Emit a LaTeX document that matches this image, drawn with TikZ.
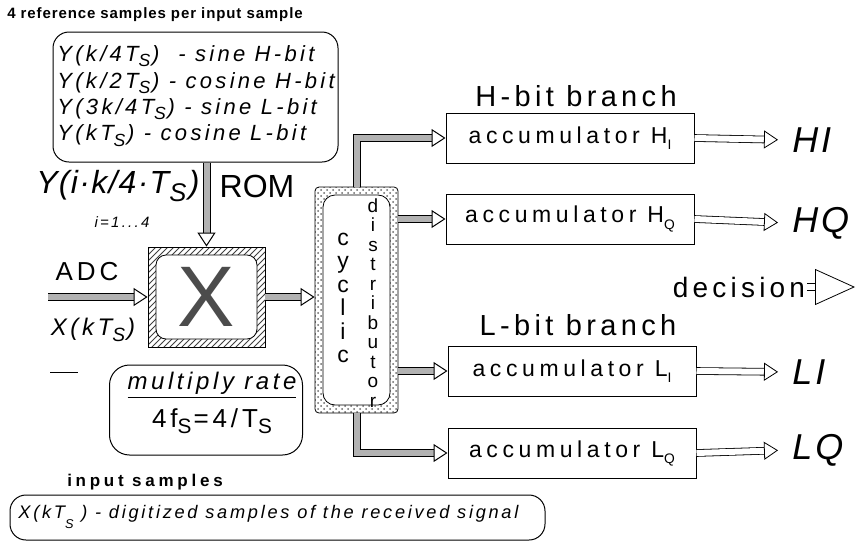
\documentclass[tikz,border=0pt]{standalone}
\usepackage{fontspec}
\setmainfont{Liberation Sans}[LetterSpace=15]
\newfontfamily\plainsf{Liberation Sans}
\usetikzlibrary{arrows.meta,patterns}
\newcommand\lowr[1]{\raisebox{-0.45ex}{\scalebox{0.8}{#1}}\kern0.08em}
\newcommand\sbt[1]{\raisebox{-0.5ex}{\scalebox{0.6}{#1}}}

\begin{document}
\begin{tikzpicture}[x=0.5pt,y=-0.5pt,
    acc/.style={draw,line width=0.5pt,minimum width=124pt,minimum height=25pt,inner sep=0pt,font=\fontsize{11.5}{13}\selectfont\addfontfeature{LetterSpace=20}},
    hatarrow/.style={draw=black,line width=0.5pt,double=black!30,double distance=3pt,-{Triangle[open,fill=white,length=7pt,width=9pt]}},
    outarrow/.style={draw=black,line width=0.4pt,double=white,double distance=3pt,-{Triangle[open,fill=white,length=7pt,width=9pt]}},
    roundbox/.style={draw,line width=0.5pt,rounded corners=8pt},
    outlab/.style={anchor=west,inner sep=2pt,font=\fontsize{18}{20}\selectfont\itshape\addfontfeature{LetterSpace=8}}]
\useasboundingbox (0,0) rectangle (857,547);

\node[font=\fontsize{7.5}{9}\selectfont\bfseries\addfontfeature{LetterSpace=6}] (title) at (155,15) {4 reference samples per input sample};
\node[roundbox,minimum width=142.5pt,minimum height=65pt] (rom) at (195.5,97) {};
\node[anchor=west,inner sep=0pt,align=left,font=\fontsize{11}{13.2}\selectfont\itshape] (romtxt) at (57,96)
  {Y(k/4T\lowr{S})\ \ - sine H-bit\\Y(k/2T\lowr{S}) - cosine H-bit\\Y(3k/4T\lowr{S}) - sine L-bit\\Y(kT\lowr{S}) - cosine L-bit};
\node[font=\fontsize{16}{18}\selectfont\itshape\addfontfeature{LetterSpace=4}] (yref) at (118,186) {Y(i·k/4·T\lowr{S})};
\node[font=\plainsf\fontsize{16}{18}\selectfont] (romlab) at (257,186) {ROM};
\node[font=\fontsize{7.5}{9}\selectfont\itshape] (irange) at (122,222) {i=1...4};

\node[draw,pattern=north east lines,pattern color=black!75,minimum width=58.5pt,minimum height=50pt] (xbox) at (206.5,297) {};
\node[draw,fill=white,rounded corners=5pt,minimum width=50.5pt,minimum height=42pt,inner sep=0pt,text=black!70,font=\plainsf\fontsize{43}{43}\selectfont] (xin) at (xbox) {X};

\node[font=\fontsize{13}{15}\selectfont] (adc) at (87,272) {ADC};
\node[font=\fontsize{12}{14}\selectfont\itshape] (xks) at (93,330) {X(kT\lowr{S})};
\coordinate (adcin) at (48,297);
\draw (50,372) -- (78,372);

\node[draw,pattern=crosshatch dots,pattern color=black!60,minimum width=41.5pt,minimum height=113pt,rounded corners=2pt] (dist) at (356.5,300) {};
\node[draw,fill=white,rounded corners=6pt,minimum width=33.5pt,minimum height=105pt] (distin) at (dist) {};
\node[align=center,inner sep=0pt,font=\fontsize{11.5}{11.7}\selectfont] (cyc) at (343,298) {c\\y\\c\\l\\i\\c};
\node[align=center,inner sep=0pt,font=\fontsize{9.5}{9.75}\selectfont] (distr) at (373,303) {d\\i\\s\\t\\r\\i\\b\\u\\t\\o\\r};

\node[font=\fontsize{14.5}{16}\selectfont] (hbit) at (576,96) {H-bit branch};
\node[acc] (hi) at (570,138) {accumulator H\sbt{I}};
\node[acc] (hq) at (570,219) {accumulator H\sbt{Q}};
\node[font=\fontsize{14.5}{16}\selectfont] (lbit) at (578,325) {L-bit branch};
\node[acc] (li) at (572,371) {accumulator L\sbt{I}};
\node[acc] (lq) at (572,453) {accumulator L\sbt{Q}};

\node[outlab] (hiout) at (788,140) {HI};
\node[outlab] (hqout) at (788,223) {HQ};
\node[outlab] (liout) at (788,372) {LI};
\node[outlab] (lqout) at (788,450) {LQ};

\node[inner sep=1pt,font=\fontsize{14}{16}\selectfont] (dec) at (739,287) {decision};
\coordinate (decend) at (855,287);

\node[roundbox,rounded corners=10pt,minimum width=96.5pt,minimum height=45pt] (mult) at (206,410) {};
\node[font=\fontsize{12}{14}\selectfont\itshape] (multlab) at (212,385) {\underline{multiply rate}};
\node[font=\fontsize{13}{15}\selectfont] (multval) at (213,421) {4f\lowr{S}=4/T\lowr{S}};

\node[font=\fontsize{8.5}{10}\selectfont\bfseries\addfontfeature{LetterSpace=22}] (inlab) at (145,482) {input samples};
\node[roundbox,minimum width=267.5pt,minimum height=22.5pt] (capt) at (277.5,517.5) {};
\node[anchor=west,inner sep=0pt,font=\fontsize{9.1}{11}\selectfont\itshape] (capttxt) at (18,517) {X(kT\raisebox{-1ex}{\scalebox{0.7}{S}}\ ) - digitized samples of the received signal};

\draw[hatarrow] (xbox.north |- rom.south) -- (xbox.north);
\draw[hatarrow] (adcin) -- (xbox.west);
\draw[hatarrow] (xbox.east) -- (xbox.east -| dist.west);
\draw[hatarrow] (dist.north) |- (hi.west);
\draw[hatarrow] (dist.east |- hq.west) -- (hq.west);
\draw[hatarrow] (dist.east |- li.west) -- (li.west);
\draw[hatarrow] (dist.south) |- (lq.west);
\draw[outarrow,shorten >=5pt] (hi.east) -- (hiout.west);
\draw[outarrow,shorten >=5pt] (hq.east) -- (hqout.west);
\draw[outarrow,shorten >=5pt] (li.east) -- (liout.west);
\draw[outarrow,shorten >=5pt] (lq.east) -- (lqout.west);
\draw[outarrow,-{Triangle[open,fill=white,length=20pt,width=18pt]}] (dec.east) -- (decend);
\end{tikzpicture}
\end{document}
